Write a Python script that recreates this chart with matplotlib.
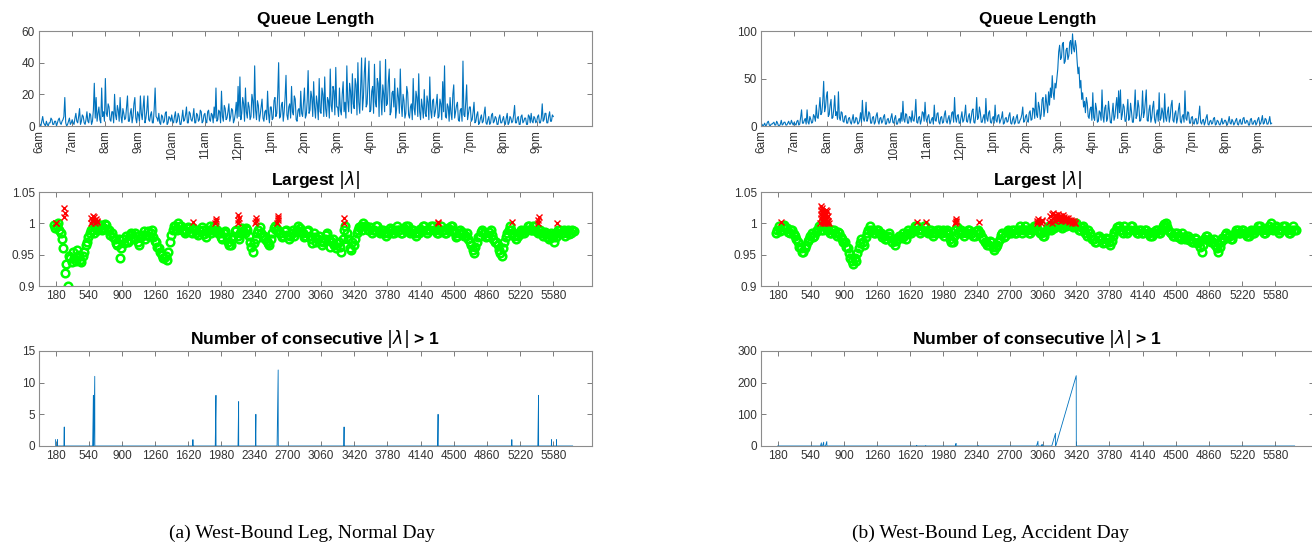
import matplotlib
matplotlib.use('Agg')
import matplotlib.pyplot as plt
import numpy as np

plt.rcParams['font.family'] = ['Liberation Sans', 'DejaVu Sans']
plt.rcParams['mathtext.fontset'] = 'dejavusans'

BLUE = '#0072BD'

# time axis is in 10 s steps, 360 steps = 1 hour, 0 = 6am
HOUR_LABELS = ['6am', '7am', '8am', '9am', '10am', '11am', '12pm', '1pm',
               '2pm', '3pm', '4pm', '5pm', '6pm', '7pm', '8pm', '9pm']
STEP_TICKS = [180, 540, 900, 1260, 1620, 1980, 2340, 2700, 3060, 3420,
              3780, 4140, 4500, 4860, 5220, 5580]

# queue length, one sample every 10 steps starting at 6am (one row per hour)
QUEUE_STEP = 10
queue_normal = [
    2, 1, 0, 3, 6, 2, 1, 0, 3, 1, 0, 2, 2, 5, 4, 1, 1, 3, 3, 0, 2, 4, 5, 2, 1, 3, 4, 6, 18, 2, 0, 1, 3, 5, 1, 2,
    4, 2, 1, 5, 8, 3, 2, 6, 11, 1, 3, 7, 6, 2, 1, 4, 9, 3, 2, 8, 7, 1, 3, 10, 27, 5, 18, 3, 8, 12, 4, 2, 24, 6, 9, 3,
    30, 8, 6, 14, 12, 4, 3, 9, 9, 2, 20, 7, 4, 13, 10, 3, 18, 6, 2, 11, 8, 4, 5, 12, 19, 3, 3, 8, 11, 2, 6, 14, 18, 5, 2, 9,
    7, 3, 19, 8, 4, 12, 19, 2, 5, 10, 19, 4, 3, 7, 9, 2, 2, 11, 24, 6, 5, 3, 8, 2, 1, 7, 6, 2, 3, 8, 9, 1, 2, 6, 5, 3,
    7, 3, 2, 6, 9, 2, 3, 8, 6, 1, 1, 5, 10, 3, 4, 7, 12, 2, 2, 9, 8, 4, 3, 6, 11, 2, 2, 8, 7, 3, 4, 10, 9, 2, 3, 7,
    8, 3, 2, 9, 10, 4, 3, 8, 7, 2, 12, 5, 24, 3, 4, 10, 9, 2, 22, 6, 3, 13, 11, 4, 5, 9, 14, 3, 6, 11, 10, 2, 4, 8, 15, 5,
    25, 6, 31, 4, 8, 18, 14, 3, 24, 9, 5, 15, 12, 4, 6, 20, 16, 5, 38, 10, 4, 16, 13, 3, 7, 12, 17, 5, 3, 9, 10, 4, 22, 8, 2, 12,
    12, 4, 5, 16, 18, 6, 8, 20, 40, 5, 6, 13, 15, 3, 9, 18, 32, 7, 4, 12, 14, 5, 25, 9, 7, 19, 17, 4, 3, 10, 11, 6, 22, 8, 6, 15,
    24, 5, 7, 16, 35, 8, 10, 22, 18, 6, 28, 12, 5, 19, 14, 4, 30, 9, 8, 24, 20, 6, 31, 11, 6, 18, 16, 5, 36, 13, 9, 25, 22, 7, 37, 12,
    12, 6, 24, 10, 7, 20, 28, 9, 15, 5, 38, 16, 9, 27, 22, 8, 33, 14, 11, 30, 26, 7, 40, 15, 8, 24, 43, 10, 18, 34, 43, 12, 14, 28, 41, 9,
    10, 22, 25, 8, 39, 15, 12, 30, 27, 6, 41, 18, 7, 26, 20, 9, 42, 13, 14, 28, 36, 7, 9, 21, 22, 12, 30, 5, 11, 24, 18, 8, 36, 14, 6, 20,
    16, 5, 8, 25, 21, 7, 5, 12, 14, 4, 30, 11, 7, 22, 18, 6, 33, 9, 4, 17, 12, 5, 23, 8, 6, 19, 15, 4, 31, 10, 5, 16, 17, 6, 9, 14,
    20, 5, 6, 17, 14, 4, 28, 9, 38, 6, 5, 14, 12, 3, 18, 8, 4, 20, 26, 5, 9, 13, 15, 4, 3, 10, 11, 3, 41, 7, 6, 15, 26, 4, 8, 12,
    12, 3, 4, 9, 15, 2, 3, 7, 9, 1, 2, 5, 7, 2, 3, 8, 12, 2, 1, 4, 6, 1, 2, 7, 8, 2, 3, 6, 5, 1, 1, 5, 7, 2, 2, 4,
    6, 2, 1, 5, 8, 1, 2, 6, 5, 2, 3, 7, 13, 2, 2, 5, 6, 1, 1, 6, 7, 2, 3, 5, 5, 1, 1, 7, 6, 2, 8, 3, 2, 6, 5, 2,
    3, 6, 7, 2, 2, 5, 14, 3, 4, 8, 8, 2, 2, 6, 9, 3, 3, 7, 6,
]
queue_accident = [
    1, 2, 0, 1, 3, 0, 1, 4, 5, 1, 0, 2, 2, 3, 4, 1, 1, 5, 3, 0, 0, 2, 6, 1, 2, 4, 4, 1, 1, 3, 5, 2, 2, 6, 3, 1,
    4, 2, 1, 5, 6, 1, 2, 9, 17, 3, 3, 6, 8, 2, 17, 4, 2, 10, 7, 3, 4, 12, 10, 5, 22, 9, 8, 18, 30, 12, 14, 26, 47, 15, 20, 31,
    36, 10, 12, 22, 28, 8, 9, 18, 32, 11, 15, 7, 36, 9, 6, 15, 14, 5, 4, 10, 11, 3, 3, 8, 9, 4, 2, 7, 12, 3, 4, 9, 8, 2, 3, 6,
    14, 4, 27, 8, 5, 11, 25, 5, 8, 15, 13, 3, 3, 9, 10, 2, 4, 11, 14, 5, 2, 8, 9, 3, 5, 10, 12, 2, 2, 7, 8, 3, 4, 9, 13, 4,
    3, 8, 11, 2, 2, 6, 8, 3, 14, 5, 26, 7, 4, 13, 12, 3, 3, 10, 9, 4, 16, 6, 5, 12, 28, 4, 3, 9, 10, 2, 6, 15, 14, 5, 25, 8,
    4, 10, 12, 3, 3, 7, 9, 2, 22, 6, 5, 13, 14, 4, 2, 9, 10, 3, 4, 12, 16, 5, 3, 8, 11, 2, 6, 14, 15, 4, 30, 9, 4, 11, 12, 3,
    3, 9, 15, 4, 6, 12, 22, 5, 4, 10, 13, 3, 8, 16, 18, 4, 3, 11, 30, 7, 9, 20, 14, 4, 4, 9, 12, 3, 29, 8, 5, 14, 16, 4, 3, 8,
    10, 3, 22, 6, 4, 11, 12, 3, 6, 9, 15, 2, 3, 8, 9, 4, 5, 11, 14, 3, 2, 7, 10, 2, 4, 9, 12, 3, 3, 6, 8, 12, 20, 4, 5, 10,
    12, 5, 4, 14, 16, 6, 7, 19, 18, 8, 35, 12, 9, 25, 20, 7, 12, 28, 30, 10, 18, 33, 24, 14, 36, 22, 40, 30, 53, 35, 28, 45, 40, 50, 60, 78,
    85, 70, 72, 86, 88, 66, 68, 80, 82, 70, 74, 88, 90, 76, 97, 82, 78, 90, 84, 68, 55, 62, 40, 48, 28, 35, 20, 26, 14, 30, 24, 10, 8, 18, 20, 6,
    35, 9, 6, 24, 18, 4, 5, 16, 14, 6, 38, 10, 4, 19, 22, 5, 8, 26, 16, 4, 3, 13, 24, 6, 10, 21, 30, 8, 37, 14, 38, 7, 12, 23, 20, 5,
    5, 15, 28, 6, 9, 24, 15, 4, 4, 18, 38, 8, 11, 27, 20, 5, 6, 14, 37, 9, 14, 26, 38, 6, 5, 17, 22, 4, 9, 20, 26, 7, 3, 12, 17, 5,
    35, 6, 8, 19, 14, 4, 34, 9, 5, 15, 20, 4, 10, 22, 27, 6, 4, 13, 16, 3, 8, 18, 24, 5, 3, 10, 12, 4, 37, 8, 6, 15, 14, 3, 3, 9,
    10, 3, 2, 7, 8, 2, 3, 11, 21, 4, 2, 6, 7, 1, 4, 9, 12, 2, 1, 5, 6, 2, 3, 8, 9, 1, 2, 6, 5, 2, 1, 4, 8, 2, 3, 6,
    6, 2, 1, 5, 10, 3, 2, 7, 5, 1, 3, 6, 8, 2, 1, 5, 7, 2, 2, 8, 9, 3, 3, 6, 5, 1, 1, 7, 8, 2, 2, 5, 6, 1, 3, 7,
    9, 3, 2, 6, 11, 2, 3, 8, 7, 2, 2, 5, 10, 2, 3,
]

# largest |lambda| of the stable samples, one every 15 steps from step 160
LAM_START = 160
LAM_STEP = 15
lam_normal = [
    .998, .992, .996, 1.0, .99, .985, .975, .96, .92, .935, .90, .948, .945, .938, .955, .945, .94, .958, .95, .942,
    .938, .948, .955, .965, .97, .978, .985, .99, .99, .985, .995, .99, .99, .998, .997, .99, .993, .999, .998, .99,
    .99, .982, .985, .978, .975, .968, .965, .975, .945, .96, .975, .968, .98, .972, .97, .982, .985, .978, .975, .985,
    .98, .97, .965, .978, .982, .988, .975, .982, .988, .98, .985, .99, .978, .972, .97, .962, .96, .955, .95, .945,
    .945, .948, .942, .955, .97, .982, .99, .995, .995, .99, 1.0, .995, .995, .99, .99, .985, .988, .994, .992, .986,
    .985, .992, .99, .984, .982, .99, .988, .994, .99, .983, .978, .986, .99, .995, .985, .99, .995, .988, .99, .984,
    .985, .978, .975, .985, .988, .978, .97, .965, .965, .975, .98, .988, .99, .98, .975, .985, .992, .988, .985, .992,
    .99, .98, .97, .962, .955, .968, .975, .985, .99, .994, .985, .978, .98, .975, .972, .968, .965, .975, .985, .992,
    .995, .99, .99, .984, .985, .978, .98, .988, .99, .982, .975, .98, .985, .99, .98, .986, .99, .995, .992, .986,
    .985, .978, .98, .988, .99, .98, .975, .968, .985, .978, .97, .975, .98, .972, .965, .97, .975, .982, .985, .975,
    .962, .97, .975, .965, .96, .968, .97, .962, .955, .975, .99, .995, .985, .975, .96, .958, .97, .965, .975, .985,
    .99, .994, .995, .99, 1.0, .996, .995, .99, .99, .994, .985, .99, .99, .996, .995, .988, .985, .99, .99, .984,
    .98, .986, .985, .992, .99, .984, .985, .99, .995, .99, .99, .985, .985, .992, .99, .996, .995, .988, .985, .99,
    .99, .984, .98, .986, .985, .991, .99, .995, .995, .99, .985, .99, .99, .996, .995, .99, .99, .985, .985, .99,
    .995, .99, .99, .985, .985, .992, .99, .996, .995, .99, .985, .978, .98, .985, .99, .986,
    .985, .98, .98, .984, .975, .97, .965, .958, .952, .962, .97, .978, .98, .986, .99, .984, .985, .978, .98, .986,
    .99, .982, .975, .97, .97, .965, .958, .952, .948, .96, .97, .978, .985, .99, .995, .99, .985, .98, .975, .982,
    .98, .986, .99, .984, .985, .99, .99, .995, .995, .99, .99, .996, .995, .988, .985, .99, .99, .984, .98, .986,
    .985, .978, .975, .982, .985, .978, .97, .978, .985, .99, .99, .984, .985, .99, .98, .986, .99, .983, .985, .99, .988,
]
lam_accident = [
    .985, .99, .995, .988, .99, .996, .998, .992, .992, .986, .985, .99, .99, .983, .98, .975, .97, .962, .96, .955,
    .955, .96, .965, .972, .975, .98, .985, .978, .98, .986, .99, .995, .995, .99, .99, .996, .997, .99, .99, .985,
    .985, .99, .99, .984, .98, .986, .985, .978, .975, .97, .97, .962, .96, .952, .945, .94, .935, .945, .94, .952,
    .96, .968, .975, .97, .965, .978, .985, .99, .995, .99, .99, .985, .985, .99, .99, .984, .985, .978, .98, .975,
    .975, .98, .985, .978, .97, .975, .965, .972, .975, .98, .98, .976, .985, .98, .975, .985, .99, .984, .985, .99,
    .99, .995, .995, .99, .985, .99, .99, .996, .995, .988, .985, .99, .99, .984, .98, .986, .985, .99, .99, .984,
    .985, .99, .98, .986, .99, .983, .975, .97, .97, .98, .99, .994, .985, .99, .99, .984, .98, .986, .985, .99,
    .99, .984, .985, .98, .98, .988, .99, .984, .985, .978, .975, .97, .97, .965, .965, .972, .97, .962, .958, .962,
    .965, .97, .975, .982, .985, .978, .98, .986, .99, .984, .985, .99, .99, .984, .985, .99, .99, .995, .985, .99,
    .995, .99, .99, .985, .985, .99, .99, .996, .995, .99, .99, .985, .985, .98, .98, .986, .99, .994, .995, .99,
    .998, .993, .995, .999, 1.0, .996, .997, .993, .999, .995, .996, 1.0, 1.0, .997, .998, .994, .997, 1.0, .995, .99,
    .99, .994, .995, .99, .985, .98, .99, .984, .98, .975, .975, .97, .97, .978, .98, .975, .975, .968, .97, .976,
    .975, .97, .965, .972, .98, .986, .99, .994, .995, .99, .99, .985, .995, .99, .985, .99, .99, .995, .995, .99,
    .99, .984, .985, .99, .99, .985, .985, .99, .99, .984, .985, .98, .98, .986, .985, .99, .99, .984, .985, .99,
    .995, .999, 1.0, .994, .99, .986, .985, .98, .98, .985, .985, .978, .98, .975, .985, .978, .975, .98, .98, .974,
    .975, .97, .97, .976, .975, .968, .97, .962, .955, .965, .975, .98, .98, .974, .975, .97, .97, .975, .965, .96,
    .955, .962, .97, .976, .975, .982, .985, .978, .98, .975, .975, .982, .985, .99, .99, .984, .985, .99, .99, .985,
    .985, .98, .98, .986, .99, .984, .985, .99, .99, .995, .995, .99, .99, .985, .985, .99, .99, .995, 1.0, .993,
    .99, .994, .995, .99, .985, .99, .99, .996, .995, .99, .99, .985, .985, .99, .995, .99, .99,
]

# samples with |lambda| > 1
unstable_normal_t = [180, 185, 270, 274, 278,
                     560, 568, 576, 584, 592, 600, 608, 616, 624, 632,
                     1670, 1915, 1918, 1921, 2158, 2161, 2164, 2167,
                     2348, 2351, 2354, 2586, 2589, 2592, 2595, 3308, 3311,
                     4327, 4331, 5130, 5415, 5418, 5421, 5615]
unstable_normal_v = [1.0, 1.001, 1.01, 1.025, 1.016,
                     1.0, 1.008, 1.003, 1.012, 1.005, 1.01, 1.0, 1.007, 1.002, 1.004,
                     1.002, 1.0, 1.004, 1.007, 1.0, 1.006, 1.013, 1.009,
                     1.0, 1.004, 1.008, 1.0, 1.005, 1.012, 1.008, 1.0, 1.008,
                     1.002, 1.0, 1.002, 1.0, 1.005, 1.01, 1.0]
unstable_accident_t = [213,
                       645, 648, 650, 652, 655, 658, 660, 663, 665, 668, 670, 673, 676, 680,
                       684, 688, 692, 696, 700, 704, 708, 712, 716, 720, 725, 730, 735,
                       1688, 1790, 2108, 2112, 2116, 2120, 2361,
                       2992, 2997, 3002, 3007, 3040, 3045, 3050]
unstable_accident_v = [1.002,
                       1.0, 1.008, 1.015, 1.022, 1.028, 1.004, 1.012, 1.02, 1.025, 1.0, 1.006, 1.016, 1.01, 1.002,
                       1.018, 1.008, 1.0, 1.012, 1.022, 1.005, 1.015, 1.0, 1.01, 1.02, 1.004, 1.012, 1.0,
                       1.002, 1.002, 1.0, 1.004, 1.007, 1.002, 1.002,
                       1.0, 1.004, 1.007, 1.002, 1.0, 1.005, 1.003]
# the long unstable stretch of the accident, one sample every 8 steps from 3130
JAM_START = 3130
JAM_STEP = 8
jam_accident_v = [1.002, 1.012, 1.006, 1.015, 1.0, 1.016, 1.008, 1.013, 1.003, 1.014, 1.01, 1.005,
                  1.015, 1.009, 1.012, 1.004, 1.011, 1.008, 1.013, 1.006, 1.01, 1.003, 1.009, 1.007,
                  1.005, 1.008, 1.002, 1.006, 1.004, 1.005, 1.001, 1.004, 1.002, 1.003, 1.0, 1.001]

# number of consecutive |lambda| > 1 (run counter)
run_normal_t = [180, 181, 199, 200, 201, 271, 274, 275, 582, 590, 591, 594, 605, 606,
                1669, 1670, 1671, 1912, 1920, 1921, 2159, 2166, 2167, 2348, 2353, 2354,
                2583, 2595, 2596, 3307, 3310, 3311, 4325, 4330, 4331, 5129, 5130, 5131,
                5412, 5420, 5421, 5559, 5560, 5561, 5614, 5615, 5616, 5790]
run_normal_n = [1, 0, 0, 1, 0, 0, 3, 0, 0, 8, 0, 0, 11, 0,
                0, 1, 0, 0, 8, 0, 0, 7, 0, 0, 5, 0,
                0, 12, 0, 0, 3, 0, 0, 5, 0, 0, 1, 0,
                0, 8, 0, 0, 1, 0, 0, 1, 0, 0]
run_accident_t = [180, 645, 655, 656, 668, 680, 681, 700, 714, 715, 1688, 1690, 1691,
                  1786, 1787, 1788, 2108, 2116, 2117, 2359, 2361, 2362, 2990, 3005, 3006,
                  3044, 3050, 3051, 3155, 3195, 3196, 3198, 3420, 3421, 5790]
run_accident_n = [0, 0, 10, 0, 0, 12, 0, 0, 14, 0, 0, 2, 0,
                  0, 1, 0, 0, 8, 0, 0, 1, 0, 0, 15, 0,
                  0, 5, 0, 0, 40, 0, 0, 222, 0, 0]


def _style(ax):
	for s in ax.spines.values():
		s.set_color('#8c8c8c')
		s.set_linewidth(0.8)
	ax.tick_params(direction='in', top=True, right=True, length=3.5, width=0.6,
	               color='#666666', labelsize=8.5, labelcolor='#333333', pad=3)
	ax.set_xlim(0, 6000)


def draw_column(fig, x0, queue, qmax, qticks, lam, bad_t, bad_v, run_t, run_n, caption, cx):
	w = 553 / 1312
	ax1 = fig.add_axes([x0, 0.7688, w, 0.1743])
	ax2 = fig.add_axes([x0, 0.4752, w, 0.1725])
	ax3 = fig.add_axes([x0, 0.1817, w, 0.1743])

	qt = np.arange(len(queue)) * QUEUE_STEP
	ax1.plot(qt, queue, color=BLUE, lw=0.8)
	_style(ax1)
	ax1.set_ylim(0, qmax)
	ax1.set_yticks(qticks)
	ax1.set_xticks(np.arange(len(HOUR_LABELS)) * 360)
	ax1.set_xticklabels(HOUR_LABELS, rotation=90)
	ax1.set_title('Queue Length', fontsize=12.5, fontweight='bold', pad=5)

	lt = LAM_START + np.arange(len(lam)) * LAM_STEP
	ax2.plot(lt, lam, 'o', color='#00ff00', mfc='none', ms=5.5, mew=1.8)
	ax2.plot(bad_t, bad_v, 'x', color='#ff0000', ms=5, mew=1.0)
	_style(ax2)
	ax2.set_ylim(0.9, 1.05)
	ax2.set_yticks([0.9, 0.95, 1.0, 1.05])
	ax2.set_yticklabels(['0.9', '0.95', '1', '1.05'])
	ax2.set_xticks(STEP_TICKS)
	ax2.set_title(r'Largest $|\lambda|$', fontsize=12.5, fontweight='bold', pad=5)

	ax3.plot(run_t, run_n, color=BLUE, lw=0.6)
	_style(ax3)
	ax3.set_xticks(STEP_TICKS)
	ax3.set_title(r'Number of consecutive $|\lambda|$ > 1', fontsize=12.5, fontweight='bold', pad=5)

	fig.text(cx, 0.022, caption, ha='center', va='center',
	         family=['Liberation Serif', 'DejaVu Serif'], fontsize=14)
	return ax3


fig = plt.figure(figsize=(13.12, 5.45), dpi=100)

jam_t = JAM_START + np.arange(len(jam_accident_v)) * JAM_STEP
bad_b_t = list(unstable_accident_t) + list(jam_t)
bad_b_v = list(unstable_accident_v) + list(jam_accident_v)

axa = draw_column(fig, 39 / 1312, queue_normal, 60, [0, 20, 40, 60], lam_normal,
                  unstable_normal_t, unstable_normal_v, run_normal_t, run_normal_n,
                  '(a) West-Bound Leg, Normal Day', 0.230)
axa.set_ylim(0, 15)
axa.set_yticks([0, 5, 10, 15])

axb = draw_column(fig, 761 / 1312, queue_accident, 100, [0, 50, 100], lam_accident,
                  bad_b_t, bad_b_v, run_accident_t, run_accident_n,
                  '(b) West-Bound Leg, Accident Day', 0.755)
axb.set_ylim(0, 300)
axb.set_yticks([0, 100, 200, 300])

fig.savefig('out.png', dpi=100)
